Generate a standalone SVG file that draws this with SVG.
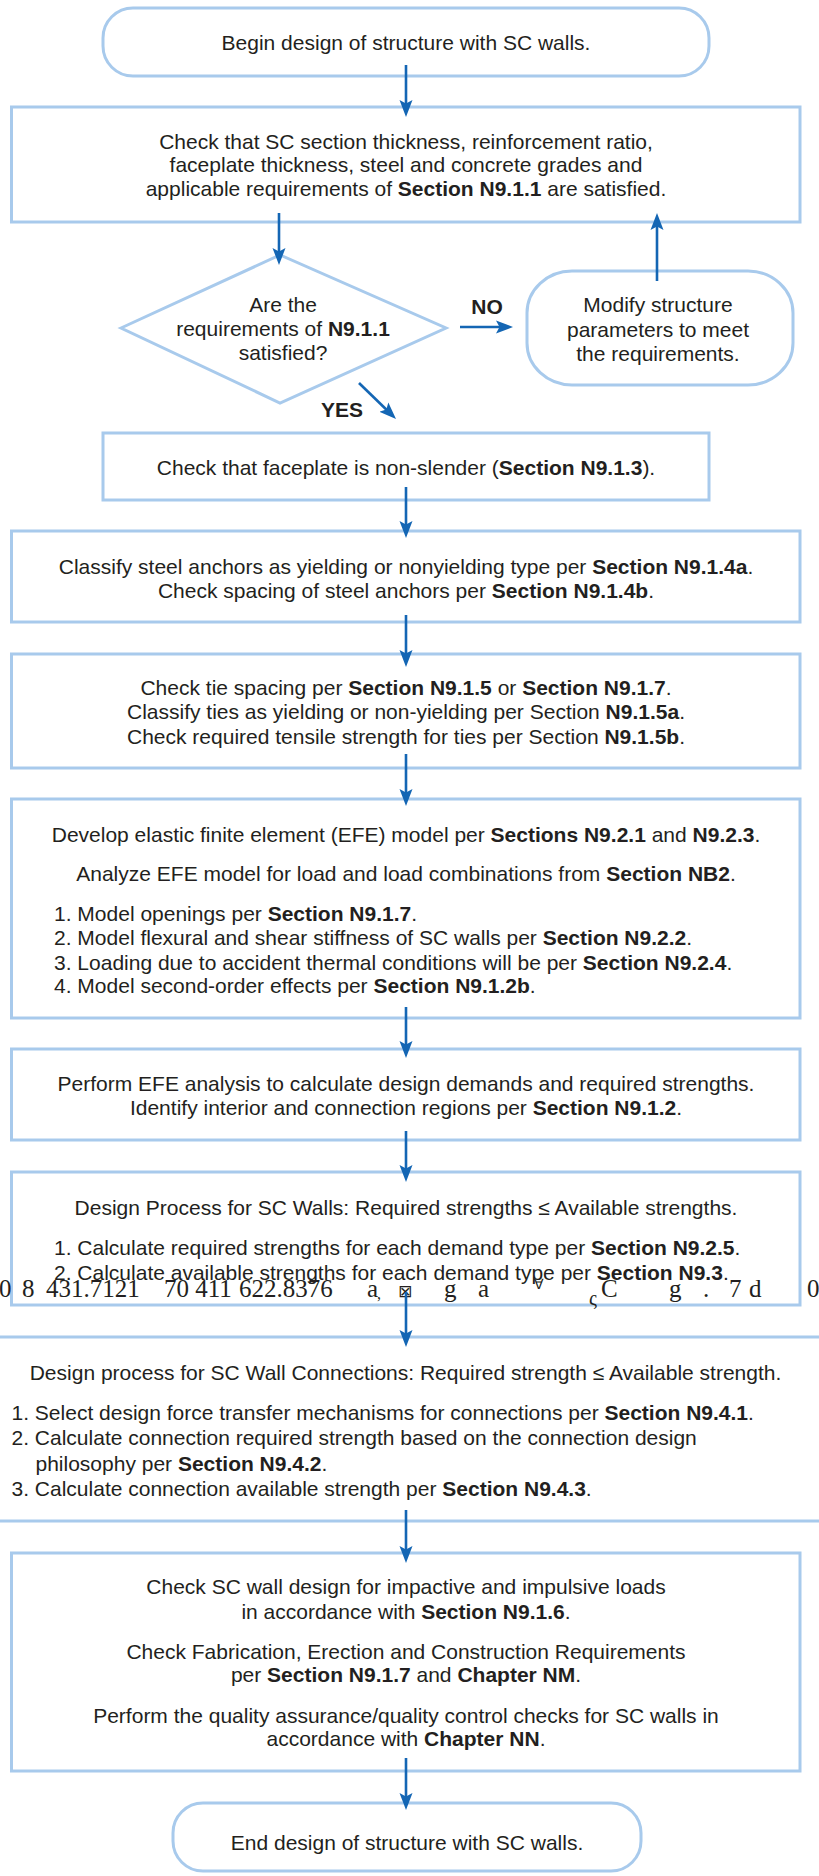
<svg xmlns="http://www.w3.org/2000/svg" width="819" height="1876" viewBox="0 0 819 1876">
<style>
.t{font-family:"Liberation Sans",Arial,sans-serif;font-size:21px;fill:#231f20}
.c{text-anchor:middle}
.b{font-weight:bold}
.box{fill:#fff;stroke:#a8caec;stroke-width:3}
.arr{stroke:#1466b4;stroke-width:2.6;fill:none;marker-end:url(#ah)}
.g{font-family:"Liberation Serif","Times New Roman",serif;font-size:25px;fill:#231f20}
</style>
<defs>
<marker id="ah" markerUnits="userSpaceOnUse" markerWidth="18" markerHeight="14" refX="11" refY="7" orient="auto" viewBox="0 0 18 14">
<path d="M0,0.5 L17,7 L0,13.5 L3.5,7 Z" fill="#1466b4"/>
</marker>
</defs>
<rect width="819" height="1876" fill="#fff"/>

<g id="begin">
<rect class="box" x="103" y="8" width="606" height="68" rx="30" ry="30"/>
<text class="t c" x="406" y="50">Begin design of structure with SC walls.</text>
</g>

<g id="check-section">
<rect class="box" x="11.5" y="107" width="788.5" height="115"/>
<text class="t c" x="406" y="149">Check that SC section thickness, reinforcement ratio,</text>
<text class="t c" x="406" y="172">faceplate thickness, steel and concrete grades and</text>
<text class="t c" x="406" y="196">applicable requirements of <tspan class="b">Section N9.1.1</tspan> are satisfied.</text>
</g>

<g id="decision">
<polygon class="box" points="121,328 280,255 446,328 280,403"/>
<text class="t c" x="283" y="312">Are the</text>
<text class="t c" x="283" y="336">requirements of <tspan class="b">N9.1.1</tspan></text>
<text class="t c" x="283" y="360">satisfied?</text>
</g>

<g id="modify">
<rect class="box" x="527" y="271" width="266" height="114" rx="45" ry="42"/>
<text class="t c" x="658" y="312">Modify structure</text>
<text class="t c" x="658" y="336.5">parameters to meet</text>
<text class="t c" x="658" y="361">the requirements.</text>
</g>

<g id="faceplate">
<rect class="box" x="103" y="433" width="606" height="67"/>
<text class="t c" x="406" y="475">Check that faceplate is non-slender (<tspan class="b">Section N9.1.3</tspan>).</text>
</g>

<g id="anchors">
<rect class="box" x="11.5" y="531" width="788.5" height="91"/>
<text class="t c" x="406" y="574">Classify steel anchors as yielding or nonyielding type per <tspan class="b">Section N9.1.4a</tspan>.</text>
<text class="t c" x="406" y="598">Check spacing of steel anchors per <tspan class="b">Section N9.1.4b</tspan>.</text>
</g>

<g id="ties">
<rect class="box" x="11.5" y="654" width="788.5" height="114"/>
<text class="t c" x="406" y="695">Check tie spacing per <tspan class="b">Section N9.1.5</tspan> or <tspan class="b">Section N9.1.7</tspan>.</text>
<text class="t c" x="406" y="719">Classify ties as yielding or non-yielding per Section <tspan class="b">N9.1.5a</tspan>.</text>
<text class="t c" x="406" y="744">Check required tensile strength for ties per Section <tspan class="b">N9.1.5b</tspan>.</text>
</g>

<g id="efe-model">
<rect class="box" x="11.5" y="799" width="788.5" height="219"/>
<text class="t c" x="406" y="842">Develop elastic finite element (EFE) model per <tspan class="b">Sections N9.2.1</tspan> and <tspan class="b">N9.2.3</tspan>.</text>
<text class="t c" x="406" y="881">Analyze EFE model for load and load combinations from <tspan class="b">Section NB2</tspan>.</text>
<text class="t" x="54" y="921">1. Model openings per <tspan class="b">Section N9.1.7</tspan>.</text>
<text class="t" x="54" y="945">2. Model flexural and shear stiffness of SC walls per <tspan class="b">Section N9.2.2</tspan>.</text>
<text class="t" x="54" y="970">3. Loading due to accident thermal conditions will be per <tspan class="b">Section N9.2.4</tspan>.</text>
<text class="t" x="54" y="993">4. Model second-order effects per <tspan class="b">Section N9.1.2b</tspan>.</text>
</g>

<g id="efe-analysis">
<rect class="box" x="11.5" y="1049" width="788.5" height="91"/>
<text class="t c" x="406" y="1091">Perform EFE analysis to calculate design demands and required strengths.</text>
<text class="t c" x="406" y="1115">Identify interior and connection regions per <tspan class="b">Section N9.1.2</tspan>.</text>
</g>

<g id="design-walls">
<rect class="box" x="11.5" y="1172" width="788.5" height="133"/>
<text class="t c" x="406" y="1215">Design Process for SC Walls: Required strengths ≤ Available strengths.</text>
<text class="t" x="54" y="1255">1. Calculate required strengths for each demand type per <tspan class="b">Section N9.2.5</tspan>.</text>
<text class="t" x="54" y="1280">2. Calculate available strengths for each demand type per <tspan class="b">Section N9.3</tspan>.</text>
<g class="g">
<text x="-1" y="1297">0</text>
<text x="22" y="1297">8</text>
<text x="46" y="1297">431.7121</text>
<text x="164" y="1297">70 411</text>
<text x="239" y="1297">622.8376</text>
<text x="367" y="1297">a</text>
<text x="377" y="1299" font-size="16">,</text>
<text x="398" y="1297" font-size="17" font-family="DejaVu Sans,sans-serif">⊠</text>
<text x="444" y="1297">g</text>
<text x="478" y="1297">a</text>
<text x="534" y="1289" font-size="14">∀</text>
<text x="589" y="1305" font-size="20">ς</text>
<text x="601" y="1297">C</text>
<text x="669" y="1297">g</text>
<text x="703" y="1297">.</text>
<text x="729" y="1297">7</text>
<text x="749" y="1297">d</text>
<text x="807" y="1297">0</text>
</g>
</g>

<g id="design-connections">
<rect class="box" x="-10" y="1337" width="839" height="184"/>
<text class="t c" x="405.5" y="1380">Design process for SC Wall Connections: Required strength ≤ Available strength.</text>
<text class="t" x="11.5" y="1420">1. Select design force transfer mechanisms for connections per <tspan class="b">Section N9.4.1</tspan>.</text>
<text class="t" x="11.5" y="1445">2. Calculate connection required strength based on the connection design</text>
<text class="t" x="35.5" y="1471">philosophy per <tspan class="b">Section N9.4.2</tspan>.</text>
<text class="t" x="11.5" y="1496">3. Calculate connection available strength per <tspan class="b">Section N9.4.3</tspan>.</text>
</g>

<g id="final-checks">
<rect class="box" x="11.5" y="1553" width="788.5" height="218"/>
<text class="t c" x="406" y="1594">Check SC wall design for impactive and impulsive loads</text>
<text class="t c" x="406" y="1619">in accordance with <tspan class="b">Section N9.1.6</tspan>.</text>
<text class="t c" x="406" y="1659">Check Fabrication, Erection and Construction Requirements</text>
<text class="t c" x="406" y="1682">per <tspan class="b">Section N9.1.7</tspan> and <tspan class="b">Chapter NM</tspan>.</text>
<text class="t c" x="406" y="1723">Perform the quality assurance/quality control checks for SC walls in</text>
<text class="t c" x="406" y="1746">accordance with <tspan class="b">Chapter NN</tspan>.</text>
</g>

<g id="end">
<rect class="box" x="173" y="1803" width="468" height="68" rx="30" ry="30"/>
<text class="t c" x="407" y="1850">End design of structure with SC walls.</text>
</g>

<g id="labels">
<text class="t b c" x="487" y="314">NO</text>
<text class="t b c" x="342" y="417">YES</text>
</g>

<g id="connectors">
<line class="arr" x1="406" y1="65" x2="406" y2="111"/>
<line class="arr" x1="279" y1="213" x2="279" y2="259"/>
<line class="arr" x1="460" y1="327" x2="507" y2="327"/>
<line class="arr" x1="657" y1="281" x2="657" y2="219"/>
<line class="arr" x1="359" y1="383" x2="391.7" y2="414.8"/>
<line class="arr" x1="406" y1="487" x2="406" y2="532"/>
<line class="arr" x1="406" y1="615" x2="406" y2="661"/>
<line class="arr" x1="406" y1="754" x2="406" y2="800"/>
<line class="arr" x1="406" y1="1007" x2="406" y2="1052"/>
<line class="arr" x1="406" y1="1131" x2="406" y2="1176"/>
<line class="arr" x1="406" y1="1292" x2="406" y2="1341"/>
<line class="arr" x1="406" y1="1510" x2="406" y2="1557"/>
<line class="arr" x1="406" y1="1758" x2="406" y2="1804"/>
</g>
</svg>
